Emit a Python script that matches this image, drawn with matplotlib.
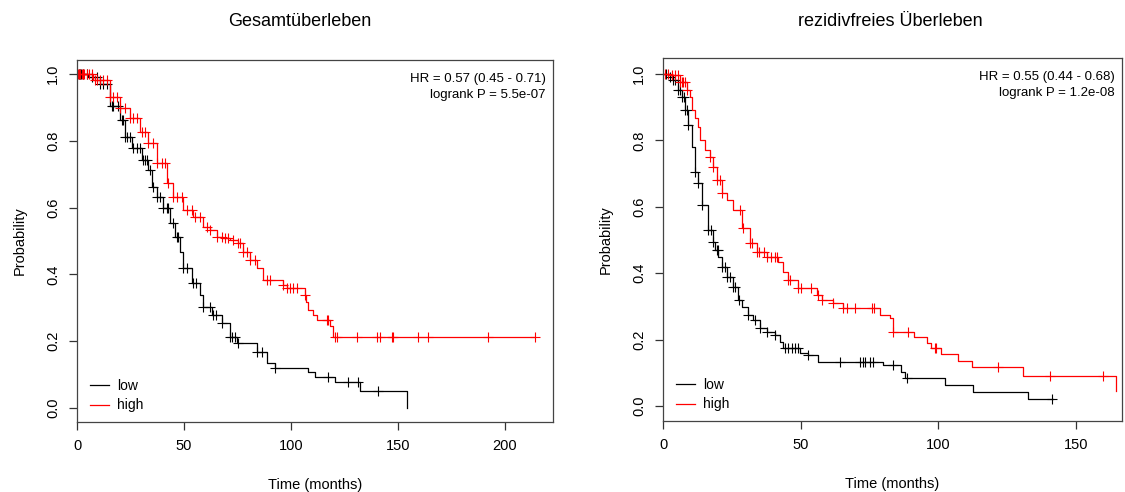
import numpy as np
import matplotlib.pyplot as plt
from matplotlib.lines import Line2D

plt.rcParams['font.family'] = ['Liberation Sans', 'DejaVu Sans']

# Gesamtueberleben (OS)
os_low_t = [0, 5, 10.7, 15.4, 20.1, 22.4, 25.5, 30.2, 33.3, 34.9, 37.2, 40.3, 43.5, 45.8, 48.1,
            49.7, 53.6, 57.5, 59, 62.9, 67.6, 71.5, 74.6, 84, 88.6, 92.5, 108, 111.2, 120.6, 132.2, 154]
os_low_s = [1.0, 0.99, 0.97, 0.904, 0.862, 0.812, 0.778, 0.743, 0.713, 0.663, 0.633, 0.599, 0.554, 0.513, 0.468,
            0.418, 0.373, 0.338, 0.303, 0.278, 0.254, 0.213, 0.194, 0.169, 0.134, 0.119, 0.109, 0.094, 0.079, 0.052, 0.0]
os_low_cens = [1, 1.4, 2, 3, 4.5, 6.9, 9.2, 10.7, 12.3, 13.9, 16.2, 17, 19.3, 20.9, 21.7, 22.4, 23.2, 24.8,
               26.3, 27.9, 29.4, 31, 31.8, 32.5, 34.1, 35.7, 37.2, 38.8, 40.3, 41.9, 42.7, 45, 46.6, 47.4,
               49.7, 51.2, 54.3, 55.8, 59, 62.1, 63.6, 65, 67.6, 71.5, 72.3, 73.8, 75.4, 84, 86.4, 92.5,
               117.4, 126.8, 131.5, 140.8]

os_high_t = [0, 7.6, 15.4, 20.1, 24.8, 29.4, 33.3, 37.2, 41.9, 45, 49.7, 54.3, 59, 62.1, 65.3, 68.4, 71.5,
             75.4, 77.7, 80.8, 84, 87.1, 96.4, 97.9, 106.5, 107, 108, 110.4, 112, 118.2, 119.8, 214]
os_high_s = [1.0, 0.982, 0.932, 0.897, 0.867, 0.827, 0.792, 0.733, 0.673, 0.633, 0.593, 0.573, 0.543, 0.533,
             0.513, 0.508, 0.503, 0.493, 0.468, 0.443, 0.418, 0.383, 0.368, 0.358, 0.338, 0.318, 0.293, 0.278,
             0.263, 0.245, 0.213, 0.213]
os_high_cens = [0.5, 1, 1.5, 2.2, 3, 3.5, 4.5, 5.5, 6.9, 8.4, 9.2, 10.7, 12.3, 13.9, 15.4, 17, 18.5, 20.1,
                22.4, 24.8, 26.3, 27.9, 30.2, 31.8, 33.3, 35.7, 37.2, 39.6, 41.1, 42.7, 45, 46.6, 48.9, 51.3,
                53.6, 55.1, 57.5, 60.6, 62.1, 65.3, 67.6, 69.2, 70.7, 73, 75.4, 76.2, 77.7, 79.3, 80.8, 83.2,
                88.6, 90.2, 96.4, 97.9, 99.5, 101, 102.6, 106.5, 116.7, 117.4, 120.5, 121.3, 130.7, 140, 141.6,
                147, 147.8, 159.5, 164.2, 192.2, 214]

# rezidivfreies Ueberleben (RFS)
rfs_low_t = [0, 2.5, 3.7, 5.6, 6.8, 8, 9.2, 10.4, 11.6, 12.8, 14, 16.4, 18.3, 18.9, 20.1, 21.3, 23.1, 25.5,
             27.3, 28.6, 31, 32.8, 35.2, 37.6, 40.7, 42.5, 43.7, 49.7, 52.8, 56.4, 80, 86.5, 87.9, 102.4,
             112.7, 132.7, 141.7]
rfs_low_s = [1.0, 0.99, 0.982, 0.952, 0.932, 0.892, 0.846, 0.781, 0.706, 0.671, 0.605, 0.530, 0.495, 0.470,
             0.450, 0.420, 0.389, 0.359, 0.319, 0.299, 0.274, 0.259, 0.234, 0.224, 0.214, 0.194, 0.174, 0.159,
             0.154, 0.133, 0.124, 0.103, 0.085, 0.063, 0.041, 0.020, 0.020]
rfs_low_cens = [1, 2.5, 3.7, 4.5, 5.6, 6.2, 6.8, 7.5, 8, 8.6, 9.2, 11.6, 12.8, 14, 16.4, 17.5, 18.3, 19.5, 20,
                21.3, 22.5, 23.1, 24.5, 25.5, 26, 27.5, 31, 33.5, 35.2, 37.6, 40.7, 44.3, 45.5, 46.7, 48.1,
                49.2, 52.8, 64.3, 71.5, 72.5, 73.5, 75, 76.2, 83.6, 88.5, 141.4]

rfs_high_t = [0, 2.5, 6.2, 8.6, 9.8, 10.4, 11.6, 12.8, 13.4, 15.2, 17.1, 18.3, 19.5, 21.3, 23.1, 25.5, 28.6,
              31.6, 34, 37.7, 41.9, 43.7, 45.5, 49.1, 55.8, 57.6, 61.8, 65.5, 78.8, 82.4, 83.6, 91, 95.7, 97.2,
              100.8, 107.2, 112.4, 130.8, 164.7]
rfs_high_s = [1.0, 0.997, 0.977, 0.952, 0.932, 0.892, 0.867, 0.841, 0.801, 0.771, 0.751, 0.721, 0.681, 0.641,
              0.62, 0.590, 0.535, 0.490, 0.465, 0.450, 0.435, 0.405, 0.380, 0.354, 0.334, 0.319, 0.309, 0.294,
              0.274, 0.264, 0.224, 0.207, 0.191, 0.174, 0.156, 0.136, 0.117, 0.092, 0.046]
rfs_high_cens = [0.7, 1.8, 3.2, 4.4, 5.4, 6.2, 6.8, 7.3, 8, 8.6, 17.1, 18.3, 19.5, 20.7, 21.3, 28, 29.2, 31.6,
                 32.5, 34, 35, 36.5, 37.7, 39.4, 40.5, 41.5, 45.5, 46, 49.1, 50.3, 53.8, 56.4, 57.6, 61.8, 65.5,
                 66.7, 69.8, 75.9, 76.5, 83.6, 89.1, 98.8, 99.1, 121.8, 140.5, 159.7]

titles = ['Gesamtüberleben', 'rezidivfreies Überleben']
hr_texts = ['HR = 0.57 (0.45 - 0.71)\nlogrank P = 5.5e-07',
            'HR = 0.55 (0.44 - 0.68)\nlogrank P = 1.2e-08']


def km(ax, t, s, cens, color):
    t = np.array(t)
    s = np.array(s)
    ax.plot(t, s, drawstyle='steps-post', color=color, lw=0.9)
    c = np.array(cens)
    idx = np.searchsorted(t, c, side='right') - 1
    ax.plot(c, s[idx], ls='none', marker='+', ms=7, mew=0.8, color=color)


fig = plt.figure(figsize=(11.25, 4.92), dpi=100)
ax1 = fig.add_axes([77/1125, 1-422/492, 476/1125, 362/492])
ax2 = fig.add_axes([663/1125, 1-421/492, 459/1125, 363/492])

km(ax1, os_low_t, os_low_s, os_low_cens, 'black')
km(ax1, os_high_t, os_high_s, os_high_cens, 'red')
km(ax2, rfs_low_t, rfs_low_s, rfs_low_cens, 'black')
km(ax2, rfs_high_t, rfs_high_s, rfs_high_cens, 'red')

ax1.set_xlim(0, 222.4)
ax1.set_ylim(-0.042, 1.042)
ax1.set_xticks([0, 50, 100, 150, 200])
ax2.set_xlim(0, 166.7)
ax2.set_ylim(-0.045, 1.048)
ax2.set_xticks([0, 50, 100, 150])

for ax, hr in zip([ax1, ax2], hr_texts):
    ax.set_yticks([0, 0.2, 0.4, 0.6, 0.8, 1.0])
    ax.set_yticklabels(['0.0', '0.2', '0.4', '0.6', '0.8', '1.0'])
    ax.tick_params(direction='out', length=6, width=0.9, labelsize=10.5, pad=6, color='#333333')
    plt.setp(ax.get_yticklabels(), rotation=90, va='center')
    for sp in ax.spines.values():
        sp.set_color('#444444')
        sp.set_linewidth(0.9)
    ax.set_xlabel('Time (months)', fontsize=10.5, labelpad=18)
    ax.set_ylabel('Probability', fontsize=10.5, labelpad=14)
    ax.text(0.985, 0.963, hr, transform=ax.transAxes, ha='right', va='top', fontsize=9.5,
            linespacing=1.45)
    handles = [Line2D([], [], color='black', lw=0.9), Line2D([], [], color='red', lw=0.9)]
    ax.legend(handles, ['low', 'high'], loc='lower left', bbox_to_anchor=(0.0, -0.008),
              frameon=False, fontsize=10, handlelength=1.4, handletextpad=0.6, labelspacing=0.42)

fig.text(300/1125, 1-21/492, titles[0], ha='center', va='center', fontsize=13)
fig.text(890/1125, 1-21/492, titles[1], ha='center', va='center', fontsize=13)

fig.savefig('out.png', dpi=100)
